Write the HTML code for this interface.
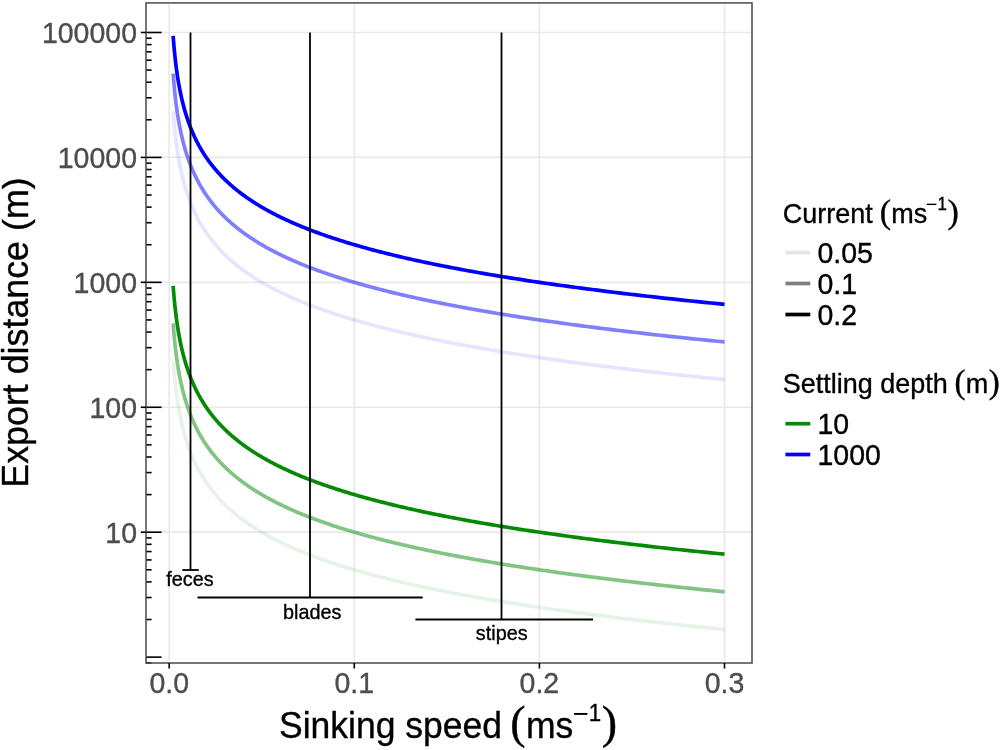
<!DOCTYPE html>
<html lang="en"><head><meta charset="utf-8"><title>Export distance vs sinking speed</title>
<style>html,body{margin:0;padding:0;background:#fff;}body{width:1000px;height:750px;overflow:hidden;}svg{display:block;}</style>
</head><body>
<svg width="1000" height="750" viewBox="0 0 1000 750" font-family="'Liberation Sans',sans-serif">
<rect x="0" y="0" width="1000" height="750" fill="#fff"/>
<g stroke="#e9e9e9" stroke-width="1.7" fill="none"><line x1="169.20" y1="4.5" x2="169.20" y2="661.2"/><line x1="354.30" y1="4.5" x2="354.30" y2="661.2"/><line x1="539.40" y1="4.5" x2="539.40" y2="661.2"/><line x1="724.50" y1="4.5" x2="724.50" y2="661.2"/><line x1="146" y1="532.20" x2="752" y2="532.20"/><line x1="146" y1="407.27" x2="752" y2="407.27"/><line x1="146" y1="282.34" x2="752" y2="282.34"/><line x1="146" y1="157.41" x2="752" y2="157.41"/><line x1="146" y1="32.48" x2="752" y2="32.48"/></g>
<polyline points="173.15,361.02 173.20,361.70 173.25,362.37 173.30,363.04 173.35,363.71 173.40,364.39 173.45,365.06 173.50,365.73 173.56,366.40 173.61,367.08 173.67,367.75 173.72,368.42 173.78,369.09 173.84,369.77 173.89,370.44 173.95,371.11 174.01,371.79 174.07,372.46 174.13,373.13 174.19,373.80 174.26,374.48 174.32,375.15 174.38,375.82 174.45,376.49 174.51,377.17 174.58,377.84 174.65,378.51 174.72,379.18 174.78,379.86 174.85,380.53 174.92,381.20 175.00,381.88 175.07,382.55 175.14,383.22 175.22,383.89 175.29,384.57 175.37,385.24 175.44,385.91 175.52,386.58 175.60,387.26 175.68,387.93 175.76,388.60 175.84,389.27 175.93,389.95 176.01,390.62 176.09,391.29 176.18,391.97 176.27,392.64 176.36,393.31 176.44,393.98 176.54,394.66 176.63,395.33 176.72,396.00 176.81,396.67 176.91,397.35 177.00,398.02 177.10,398.69 177.20,399.36 177.30,400.04 177.40,400.71 177.50,401.38 177.61,402.06 177.71,402.73 177.82,403.40 177.93,404.07 178.03,404.75 178.14,405.42 178.26,406.09 178.37,406.76 178.48,407.44 178.60,408.11 178.72,408.78 178.84,409.45 178.96,410.13 179.08,410.80 179.20,411.47 179.33,412.15 179.45,412.82 179.58,413.49 179.71,414.16 179.84,414.84 179.97,415.51 180.11,416.18 180.24,416.85 180.38,417.53 180.52,418.20 180.66,418.87 180.80,419.54 180.95,420.22 181.10,420.89 181.24,421.56 181.39,422.24 181.55,422.91 181.70,423.58 181.86,424.25 182.01,424.93 182.17,425.60 182.34,426.27 182.50,426.94 182.67,427.62 182.83,428.29 183.00,428.96 183.18,429.63 183.35,430.31 183.53,430.98 183.71,431.65 183.89,432.33 184.07,433.00 184.26,433.67 184.44,434.34 184.63,435.02 184.83,435.69 185.02,436.36 185.22,437.03 185.42,437.71 185.62,438.38 185.83,439.05 186.03,439.72 186.24,440.40 186.46,441.07 186.67,441.74 186.89,442.41 187.11,443.09 187.33,443.76 187.56,444.43 187.79,445.11 188.02,445.78 188.25,446.45 188.49,447.12 188.73,447.80 188.98,448.47 189.22,449.14 189.47,449.81 189.73,450.49 189.98,451.16 190.24,451.83 190.50,452.50 190.77,453.18 191.04,453.85 191.31,454.52 191.59,455.20 191.87,455.87 192.15,456.54 192.44,457.21 192.73,457.89 193.02,458.56 193.32,459.23 193.62,459.90 193.92,460.58 194.23,461.25 194.54,461.92 194.86,462.59 195.18,463.27 195.50,463.94 195.83,464.61 196.16,465.29 196.50,465.96 196.84,466.63 197.18,467.30 197.53,467.98 197.89,468.65 198.24,469.32 198.61,469.99 198.97,470.67 199.35,471.34 199.72,472.01 200.10,472.68 200.49,473.36 200.88,474.03 201.27,474.70 201.67,475.38 202.08,476.05 202.49,476.72 202.90,477.39 203.32,478.07 203.75,478.74 204.18,479.41 204.62,480.08 205.06,480.76 205.51,481.43 205.96,482.10 206.42,482.77 206.88,483.45 207.35,484.12 207.83,484.79 208.31,485.47 208.80,486.14 209.29,486.81 209.79,487.48 210.30,488.16 210.81,488.83 211.33,489.50 211.86,490.17 212.39,490.85 212.93,491.52 213.47,492.19 214.02,492.86 214.58,493.54 215.15,494.21 215.72,494.88 216.30,495.56 216.89,496.23 217.49,496.90 218.09,497.57 218.70,498.25 219.32,498.92 219.94,499.59 220.57,500.26 221.21,500.94 221.86,501.61 222.52,502.28 223.19,502.95 223.86,503.63 224.54,504.30 225.23,504.97 225.93,505.64 226.64,506.32 227.35,506.99 228.08,507.66 228.81,508.34 229.56,509.01 230.31,509.68 231.07,510.35 231.85,511.03 232.63,511.70 233.42,512.37 234.22,513.04 235.03,513.72 235.85,514.39 236.68,515.06 237.53,515.73 238.38,516.41 239.24,517.08 240.11,517.75 241.00,518.43 241.89,519.10 242.80,519.77 243.72,520.44 244.65,521.12 245.59,521.79 246.54,522.46 247.51,523.13 248.49,523.81 249.47,524.48 250.48,525.15 251.49,525.82 252.52,526.50 253.56,527.17 254.61,527.84 255.67,528.52 256.75,529.19 257.84,529.86 258.95,530.53 260.07,531.21 261.20,531.88 262.35,532.55 263.51,533.22 264.69,533.90 265.88,534.57 267.09,535.24 268.31,535.91 269.54,536.59 270.80,537.26 272.06,537.93 273.35,538.61 274.65,539.28 275.96,539.95 277.29,540.62 278.64,541.30 280.01,541.97 281.39,542.64 282.79,543.31 284.21,543.99 285.64,544.66 287.09,545.33 288.56,546.00 290.05,546.68 291.56,547.35 293.09,548.02 294.63,548.70 296.20,549.37 297.78,550.04 299.39,550.71 301.01,551.39 302.65,552.06 304.32,552.73 306.01,553.40 307.71,554.08 309.44,554.75 311.19,555.42 312.96,556.09 314.75,556.77 316.57,557.44 318.41,558.11 320.27,558.79 322.15,559.46 324.06,560.13 325.99,560.80 327.95,561.48 329.93,562.15 331.94,562.82 333.97,563.49 336.02,564.17 338.10,564.84 340.21,565.51 342.34,566.18 344.50,566.86 346.69,567.53 348.90,568.20 351.15,568.88 353.42,569.55 355.71,570.22 358.04,570.89 360.40,571.57 362.78,572.24 365.20,572.91 367.64,573.58 370.12,574.26 372.62,574.93 375.16,575.60 377.73,576.27 380.33,576.95 382.97,577.62 385.63,578.29 388.33,578.96 391.07,579.64 393.83,580.31 396.64,580.98 399.47,581.66 402.35,582.33 405.25,583.00 408.20,583.67 411.18,584.35 414.20,585.02 417.26,585.69 420.35,586.36 423.48,587.04 426.65,587.71 429.87,588.38 433.12,589.05 436.41,589.73 439.74,590.40 443.12,591.07 446.54,591.75 450.00,592.42 453.50,593.09 457.05,593.76 460.64,594.44 464.27,595.11 467.95,595.78 471.68,596.45 475.45,597.13 479.27,597.80 483.14,598.47 487.06,599.14 491.02,599.82 495.04,600.49 499.10,601.16 503.22,601.84 507.39,602.51 511.61,603.18 515.88,603.85 520.20,604.53 524.58,605.20 529.01,605.87 533.50,606.54 538.05,607.22 542.65,607.89 547.31,608.56 552.02,609.23 556.80,609.91 561.63,610.58 566.53,611.25 571.49,611.93 576.51,612.60 581.59,613.27 586.73,613.94 591.94,614.62 597.21,615.29 602.55,615.96 607.96,616.63 613.43,617.31 618.97,617.98 624.59,618.65 630.27,619.32 636.02,620.00 641.84,620.67 647.74,621.34 653.71,622.02 659.75,622.69 665.87,623.36 672.07,624.03 678.34,624.71 684.69,625.38 691.12,626.05 697.63,626.72 704.23,627.40 710.90,628.07 717.66,628.74 724.50,629.41" fill="none" stroke="#068a06" stroke-opacity="0.1" stroke-width="3.7" stroke-linejoin="round"/>
<polyline points="173.15,323.42 173.20,324.09 173.25,324.76 173.30,325.43 173.35,326.11 173.40,326.78 173.45,327.45 173.50,328.12 173.56,328.80 173.61,329.47 173.67,330.14 173.72,330.81 173.78,331.49 173.84,332.16 173.89,332.83 173.95,333.51 174.01,334.18 174.07,334.85 174.13,335.52 174.19,336.20 174.26,336.87 174.32,337.54 174.38,338.21 174.45,338.89 174.51,339.56 174.58,340.23 174.65,340.90 174.72,341.58 174.78,342.25 174.85,342.92 174.92,343.60 175.00,344.27 175.07,344.94 175.14,345.61 175.22,346.29 175.29,346.96 175.37,347.63 175.44,348.30 175.52,348.98 175.60,349.65 175.68,350.32 175.76,350.99 175.84,351.67 175.93,352.34 176.01,353.01 176.09,353.69 176.18,354.36 176.27,355.03 176.36,355.70 176.44,356.38 176.54,357.05 176.63,357.72 176.72,358.39 176.81,359.07 176.91,359.74 177.00,360.41 177.10,361.08 177.20,361.76 177.30,362.43 177.40,363.10 177.50,363.77 177.61,364.45 177.71,365.12 177.82,365.79 177.93,366.47 178.03,367.14 178.14,367.81 178.26,368.48 178.37,369.16 178.48,369.83 178.60,370.50 178.72,371.17 178.84,371.85 178.96,372.52 179.08,373.19 179.20,373.86 179.33,374.54 179.45,375.21 179.58,375.88 179.71,376.56 179.84,377.23 179.97,377.90 180.11,378.57 180.24,379.25 180.38,379.92 180.52,380.59 180.66,381.26 180.80,381.94 180.95,382.61 181.10,383.28 181.24,383.95 181.39,384.63 181.55,385.30 181.70,385.97 181.86,386.65 182.01,387.32 182.17,387.99 182.34,388.66 182.50,389.34 182.67,390.01 182.83,390.68 183.00,391.35 183.18,392.03 183.35,392.70 183.53,393.37 183.71,394.04 183.89,394.72 184.07,395.39 184.26,396.06 184.44,396.74 184.63,397.41 184.83,398.08 185.02,398.75 185.22,399.43 185.42,400.10 185.62,400.77 185.83,401.44 186.03,402.12 186.24,402.79 186.46,403.46 186.67,404.13 186.89,404.81 187.11,405.48 187.33,406.15 187.56,406.83 187.79,407.50 188.02,408.17 188.25,408.84 188.49,409.52 188.73,410.19 188.98,410.86 189.22,411.53 189.47,412.21 189.73,412.88 189.98,413.55 190.24,414.22 190.50,414.90 190.77,415.57 191.04,416.24 191.31,416.92 191.59,417.59 191.87,418.26 192.15,418.93 192.44,419.61 192.73,420.28 193.02,420.95 193.32,421.62 193.62,422.30 193.92,422.97 194.23,423.64 194.54,424.31 194.86,424.99 195.18,425.66 195.50,426.33 195.83,427.01 196.16,427.68 196.50,428.35 196.84,429.02 197.18,429.70 197.53,430.37 197.89,431.04 198.24,431.71 198.61,432.39 198.97,433.06 199.35,433.73 199.72,434.40 200.10,435.08 200.49,435.75 200.88,436.42 201.27,437.09 201.67,437.77 202.08,438.44 202.49,439.11 202.90,439.79 203.32,440.46 203.75,441.13 204.18,441.80 204.62,442.48 205.06,443.15 205.51,443.82 205.96,444.49 206.42,445.17 206.88,445.84 207.35,446.51 207.83,447.18 208.31,447.86 208.80,448.53 209.29,449.20 209.79,449.88 210.30,450.55 210.81,451.22 211.33,451.89 211.86,452.57 212.39,453.24 212.93,453.91 213.47,454.58 214.02,455.26 214.58,455.93 215.15,456.60 215.72,457.27 216.30,457.95 216.89,458.62 217.49,459.29 218.09,459.97 218.70,460.64 219.32,461.31 219.94,461.98 220.57,462.66 221.21,463.33 221.86,464.00 222.52,464.67 223.19,465.35 223.86,466.02 224.54,466.69 225.23,467.36 225.93,468.04 226.64,468.71 227.35,469.38 228.08,470.06 228.81,470.73 229.56,471.40 230.31,472.07 231.07,472.75 231.85,473.42 232.63,474.09 233.42,474.76 234.22,475.44 235.03,476.11 235.85,476.78 236.68,477.45 237.53,478.13 238.38,478.80 239.24,479.47 240.11,480.15 241.00,480.82 241.89,481.49 242.80,482.16 243.72,482.84 244.65,483.51 245.59,484.18 246.54,484.85 247.51,485.53 248.49,486.20 249.47,486.87 250.48,487.54 251.49,488.22 252.52,488.89 253.56,489.56 254.61,490.24 255.67,490.91 256.75,491.58 257.84,492.25 258.95,492.93 260.07,493.60 261.20,494.27 262.35,494.94 263.51,495.62 264.69,496.29 265.88,496.96 267.09,497.63 268.31,498.31 269.54,498.98 270.80,499.65 272.06,500.32 273.35,501.00 274.65,501.67 275.96,502.34 277.29,503.02 278.64,503.69 280.01,504.36 281.39,505.03 282.79,505.71 284.21,506.38 285.64,507.05 287.09,507.72 288.56,508.40 290.05,509.07 291.56,509.74 293.09,510.41 294.63,511.09 296.20,511.76 297.78,512.43 299.39,513.11 301.01,513.78 302.65,514.45 304.32,515.12 306.01,515.80 307.71,516.47 309.44,517.14 311.19,517.81 312.96,518.49 314.75,519.16 316.57,519.83 318.41,520.50 320.27,521.18 322.15,521.85 324.06,522.52 325.99,523.20 327.95,523.87 329.93,524.54 331.94,525.21 333.97,525.89 336.02,526.56 338.10,527.23 340.21,527.90 342.34,528.58 344.50,529.25 346.69,529.92 348.90,530.59 351.15,531.27 353.42,531.94 355.71,532.61 358.04,533.29 360.40,533.96 362.78,534.63 365.20,535.30 367.64,535.98 370.12,536.65 372.62,537.32 375.16,537.99 377.73,538.67 380.33,539.34 382.97,540.01 385.63,540.68 388.33,541.36 391.07,542.03 393.83,542.70 396.64,543.38 399.47,544.05 402.35,544.72 405.25,545.39 408.20,546.07 411.18,546.74 414.20,547.41 417.26,548.08 420.35,548.76 423.48,549.43 426.65,550.10 429.87,550.77 433.12,551.45 436.41,552.12 439.74,552.79 443.12,553.47 446.54,554.14 450.00,554.81 453.50,555.48 457.05,556.16 460.64,556.83 464.27,557.50 467.95,558.17 471.68,558.85 475.45,559.52 479.27,560.19 483.14,560.86 487.06,561.54 491.02,562.21 495.04,562.88 499.10,563.56 503.22,564.23 507.39,564.90 511.61,565.57 515.88,566.25 520.20,566.92 524.58,567.59 529.01,568.26 533.50,568.94 538.05,569.61 542.65,570.28 547.31,570.95 552.02,571.63 556.80,572.30 561.63,572.97 566.53,573.64 571.49,574.32 576.51,574.99 581.59,575.66 586.73,576.34 591.94,577.01 597.21,577.68 602.55,578.35 607.96,579.03 613.43,579.70 618.97,580.37 624.59,581.04 630.27,581.72 636.02,582.39 641.84,583.06 647.74,583.73 653.71,584.41 659.75,585.08 665.87,585.75 672.07,586.43 678.34,587.10 684.69,587.77 691.12,588.44 697.63,589.12 704.23,589.79 710.90,590.46 717.66,591.13 724.50,591.81" fill="none" stroke="#068a06" stroke-opacity="0.5" stroke-width="3.7" stroke-linejoin="round"/>
<polyline points="173.15,285.81 173.20,286.48 173.25,287.15 173.30,287.83 173.35,288.50 173.40,289.17 173.45,289.84 173.50,290.52 173.56,291.19 173.61,291.86 173.67,292.53 173.72,293.21 173.78,293.88 173.84,294.55 173.89,295.22 173.95,295.90 174.01,296.57 174.07,297.24 174.13,297.92 174.19,298.59 174.26,299.26 174.32,299.93 174.38,300.61 174.45,301.28 174.51,301.95 174.58,302.62 174.65,303.30 174.72,303.97 174.78,304.64 174.85,305.31 174.92,305.99 175.00,306.66 175.07,307.33 175.14,308.01 175.22,308.68 175.29,309.35 175.37,310.02 175.44,310.70 175.52,311.37 175.60,312.04 175.68,312.71 175.76,313.39 175.84,314.06 175.93,314.73 176.01,315.40 176.09,316.08 176.18,316.75 176.27,317.42 176.36,318.10 176.44,318.77 176.54,319.44 176.63,320.11 176.72,320.79 176.81,321.46 176.91,322.13 177.00,322.80 177.10,323.48 177.20,324.15 177.30,324.82 177.40,325.49 177.50,326.17 177.61,326.84 177.71,327.51 177.82,328.19 177.93,328.86 178.03,329.53 178.14,330.20 178.26,330.88 178.37,331.55 178.48,332.22 178.60,332.89 178.72,333.57 178.84,334.24 178.96,334.91 179.08,335.58 179.20,336.26 179.33,336.93 179.45,337.60 179.58,338.28 179.71,338.95 179.84,339.62 179.97,340.29 180.11,340.97 180.24,341.64 180.38,342.31 180.52,342.98 180.66,343.66 180.80,344.33 180.95,345.00 181.10,345.67 181.24,346.35 181.39,347.02 181.55,347.69 181.70,348.37 181.86,349.04 182.01,349.71 182.17,350.38 182.34,351.06 182.50,351.73 182.67,352.40 182.83,353.07 183.00,353.75 183.18,354.42 183.35,355.09 183.53,355.76 183.71,356.44 183.89,357.11 184.07,357.78 184.26,358.45 184.44,359.13 184.63,359.80 184.83,360.47 185.02,361.15 185.22,361.82 185.42,362.49 185.62,363.16 185.83,363.84 186.03,364.51 186.24,365.18 186.46,365.85 186.67,366.53 186.89,367.20 187.11,367.87 187.33,368.54 187.56,369.22 187.79,369.89 188.02,370.56 188.25,371.24 188.49,371.91 188.73,372.58 188.98,373.25 189.22,373.93 189.47,374.60 189.73,375.27 189.98,375.94 190.24,376.62 190.50,377.29 190.77,377.96 191.04,378.63 191.31,379.31 191.59,379.98 191.87,380.65 192.15,381.33 192.44,382.00 192.73,382.67 193.02,383.34 193.32,384.02 193.62,384.69 193.92,385.36 194.23,386.03 194.54,386.71 194.86,387.38 195.18,388.05 195.50,388.72 195.83,389.40 196.16,390.07 196.50,390.74 196.84,391.42 197.18,392.09 197.53,392.76 197.89,393.43 198.24,394.11 198.61,394.78 198.97,395.45 199.35,396.12 199.72,396.80 200.10,397.47 200.49,398.14 200.88,398.81 201.27,399.49 201.67,400.16 202.08,400.83 202.49,401.51 202.90,402.18 203.32,402.85 203.75,403.52 204.18,404.20 204.62,404.87 205.06,405.54 205.51,406.21 205.96,406.89 206.42,407.56 206.88,408.23 207.35,408.90 207.83,409.58 208.31,410.25 208.80,410.92 209.29,411.60 209.79,412.27 210.30,412.94 210.81,413.61 211.33,414.29 211.86,414.96 212.39,415.63 212.93,416.30 213.47,416.98 214.02,417.65 214.58,418.32 215.15,418.99 215.72,419.67 216.30,420.34 216.89,421.01 217.49,421.69 218.09,422.36 218.70,423.03 219.32,423.70 219.94,424.38 220.57,425.05 221.21,425.72 221.86,426.39 222.52,427.07 223.19,427.74 223.86,428.41 224.54,429.08 225.23,429.76 225.93,430.43 226.64,431.10 227.35,431.77 228.08,432.45 228.81,433.12 229.56,433.79 230.31,434.47 231.07,435.14 231.85,435.81 232.63,436.48 233.42,437.16 234.22,437.83 235.03,438.50 235.85,439.17 236.68,439.85 237.53,440.52 238.38,441.19 239.24,441.86 240.11,442.54 241.00,443.21 241.89,443.88 242.80,444.56 243.72,445.23 244.65,445.90 245.59,446.57 246.54,447.25 247.51,447.92 248.49,448.59 249.47,449.26 250.48,449.94 251.49,450.61 252.52,451.28 253.56,451.95 254.61,452.63 255.67,453.30 256.75,453.97 257.84,454.65 258.95,455.32 260.07,455.99 261.20,456.66 262.35,457.34 263.51,458.01 264.69,458.68 265.88,459.35 267.09,460.03 268.31,460.70 269.54,461.37 270.80,462.04 272.06,462.72 273.35,463.39 274.65,464.06 275.96,464.74 277.29,465.41 278.64,466.08 280.01,466.75 281.39,467.43 282.79,468.10 284.21,468.77 285.64,469.44 287.09,470.12 288.56,470.79 290.05,471.46 291.56,472.13 293.09,472.81 294.63,473.48 296.20,474.15 297.78,474.83 299.39,475.50 301.01,476.17 302.65,476.84 304.32,477.52 306.01,478.19 307.71,478.86 309.44,479.53 311.19,480.21 312.96,480.88 314.75,481.55 316.57,482.22 318.41,482.90 320.27,483.57 322.15,484.24 324.06,484.92 325.99,485.59 327.95,486.26 329.93,486.93 331.94,487.61 333.97,488.28 336.02,488.95 338.10,489.62 340.21,490.30 342.34,490.97 344.50,491.64 346.69,492.31 348.90,492.99 351.15,493.66 353.42,494.33 355.71,495.00 358.04,495.68 360.40,496.35 362.78,497.02 365.20,497.70 367.64,498.37 370.12,499.04 372.62,499.71 375.16,500.39 377.73,501.06 380.33,501.73 382.97,502.40 385.63,503.08 388.33,503.75 391.07,504.42 393.83,505.09 396.64,505.77 399.47,506.44 402.35,507.11 405.25,507.79 408.20,508.46 411.18,509.13 414.20,509.80 417.26,510.48 420.35,511.15 423.48,511.82 426.65,512.49 429.87,513.17 433.12,513.84 436.41,514.51 439.74,515.18 443.12,515.86 446.54,516.53 450.00,517.20 453.50,517.88 457.05,518.55 460.64,519.22 464.27,519.89 467.95,520.57 471.68,521.24 475.45,521.91 479.27,522.58 483.14,523.26 487.06,523.93 491.02,524.60 495.04,525.27 499.10,525.95 503.22,526.62 507.39,527.29 511.61,527.97 515.88,528.64 520.20,529.31 524.58,529.98 529.01,530.66 533.50,531.33 538.05,532.00 542.65,532.67 547.31,533.35 552.02,534.02 556.80,534.69 561.63,535.36 566.53,536.04 571.49,536.71 576.51,537.38 581.59,538.06 586.73,538.73 591.94,539.40 597.21,540.07 602.55,540.75 607.96,541.42 613.43,542.09 618.97,542.76 624.59,543.44 630.27,544.11 636.02,544.78 641.84,545.45 647.74,546.13 653.71,546.80 659.75,547.47 665.87,548.15 672.07,548.82 678.34,549.49 684.69,550.16 691.12,550.84 697.63,551.51 704.23,552.18 710.90,552.85 717.66,553.53 724.50,554.20" fill="none" stroke="#068a06" stroke-opacity="1" stroke-width="3.7" stroke-linejoin="round"/>
<polyline points="173.15,111.16 173.20,111.84 173.25,112.51 173.30,113.18 173.35,113.85 173.40,114.53 173.45,115.20 173.50,115.87 173.56,116.54 173.61,117.22 173.67,117.89 173.72,118.56 173.78,119.23 173.84,119.91 173.89,120.58 173.95,121.25 174.01,121.93 174.07,122.60 174.13,123.27 174.19,123.94 174.26,124.62 174.32,125.29 174.38,125.96 174.45,126.63 174.51,127.31 174.58,127.98 174.65,128.65 174.72,129.32 174.78,130.00 174.85,130.67 174.92,131.34 175.00,132.02 175.07,132.69 175.14,133.36 175.22,134.03 175.29,134.71 175.37,135.38 175.44,136.05 175.52,136.72 175.60,137.40 175.68,138.07 175.76,138.74 175.84,139.41 175.93,140.09 176.01,140.76 176.09,141.43 176.18,142.11 176.27,142.78 176.36,143.45 176.44,144.12 176.54,144.80 176.63,145.47 176.72,146.14 176.81,146.81 176.91,147.49 177.00,148.16 177.10,148.83 177.20,149.50 177.30,150.18 177.40,150.85 177.50,151.52 177.61,152.20 177.71,152.87 177.82,153.54 177.93,154.21 178.03,154.89 178.14,155.56 178.26,156.23 178.37,156.90 178.48,157.58 178.60,158.25 178.72,158.92 178.84,159.59 178.96,160.27 179.08,160.94 179.20,161.61 179.33,162.29 179.45,162.96 179.58,163.63 179.71,164.30 179.84,164.98 179.97,165.65 180.11,166.32 180.24,166.99 180.38,167.67 180.52,168.34 180.66,169.01 180.80,169.68 180.95,170.36 181.10,171.03 181.24,171.70 181.39,172.38 181.55,173.05 181.70,173.72 181.86,174.39 182.01,175.07 182.17,175.74 182.34,176.41 182.50,177.08 182.67,177.76 182.83,178.43 183.00,179.10 183.18,179.77 183.35,180.45 183.53,181.12 183.71,181.79 183.89,182.47 184.07,183.14 184.26,183.81 184.44,184.48 184.63,185.16 184.83,185.83 185.02,186.50 185.22,187.17 185.42,187.85 185.62,188.52 185.83,189.19 186.03,189.86 186.24,190.54 186.46,191.21 186.67,191.88 186.89,192.55 187.11,193.23 187.33,193.90 187.56,194.57 187.79,195.25 188.02,195.92 188.25,196.59 188.49,197.26 188.73,197.94 188.98,198.61 189.22,199.28 189.47,199.95 189.73,200.63 189.98,201.30 190.24,201.97 190.50,202.64 190.77,203.32 191.04,203.99 191.31,204.66 191.59,205.34 191.87,206.01 192.15,206.68 192.44,207.35 192.73,208.03 193.02,208.70 193.32,209.37 193.62,210.04 193.92,210.72 194.23,211.39 194.54,212.06 194.86,212.73 195.18,213.41 195.50,214.08 195.83,214.75 196.16,215.43 196.50,216.10 196.84,216.77 197.18,217.44 197.53,218.12 197.89,218.79 198.24,219.46 198.61,220.13 198.97,220.81 199.35,221.48 199.72,222.15 200.10,222.82 200.49,223.50 200.88,224.17 201.27,224.84 201.67,225.52 202.08,226.19 202.49,226.86 202.90,227.53 203.32,228.21 203.75,228.88 204.18,229.55 204.62,230.22 205.06,230.90 205.51,231.57 205.96,232.24 206.42,232.91 206.88,233.59 207.35,234.26 207.83,234.93 208.31,235.61 208.80,236.28 209.29,236.95 209.79,237.62 210.30,238.30 210.81,238.97 211.33,239.64 211.86,240.31 212.39,240.99 212.93,241.66 213.47,242.33 214.02,243.00 214.58,243.68 215.15,244.35 215.72,245.02 216.30,245.70 216.89,246.37 217.49,247.04 218.09,247.71 218.70,248.39 219.32,249.06 219.94,249.73 220.57,250.40 221.21,251.08 221.86,251.75 222.52,252.42 223.19,253.09 223.86,253.77 224.54,254.44 225.23,255.11 225.93,255.78 226.64,256.46 227.35,257.13 228.08,257.80 228.81,258.48 229.56,259.15 230.31,259.82 231.07,260.49 231.85,261.17 232.63,261.84 233.42,262.51 234.22,263.18 235.03,263.86 235.85,264.53 236.68,265.20 237.53,265.87 238.38,266.55 239.24,267.22 240.11,267.89 241.00,268.57 241.89,269.24 242.80,269.91 243.72,270.58 244.65,271.26 245.59,271.93 246.54,272.60 247.51,273.27 248.49,273.95 249.47,274.62 250.48,275.29 251.49,275.96 252.52,276.64 253.56,277.31 254.61,277.98 255.67,278.66 256.75,279.33 257.84,280.00 258.95,280.67 260.07,281.35 261.20,282.02 262.35,282.69 263.51,283.36 264.69,284.04 265.88,284.71 267.09,285.38 268.31,286.05 269.54,286.73 270.80,287.40 272.06,288.07 273.35,288.75 274.65,289.42 275.96,290.09 277.29,290.76 278.64,291.44 280.01,292.11 281.39,292.78 282.79,293.45 284.21,294.13 285.64,294.80 287.09,295.47 288.56,296.14 290.05,296.82 291.56,297.49 293.09,298.16 294.63,298.84 296.20,299.51 297.78,300.18 299.39,300.85 301.01,301.53 302.65,302.20 304.32,302.87 306.01,303.54 307.71,304.22 309.44,304.89 311.19,305.56 312.96,306.23 314.75,306.91 316.57,307.58 318.41,308.25 320.27,308.93 322.15,309.60 324.06,310.27 325.99,310.94 327.95,311.62 329.93,312.29 331.94,312.96 333.97,313.63 336.02,314.31 338.10,314.98 340.21,315.65 342.34,316.32 344.50,317.00 346.69,317.67 348.90,318.34 351.15,319.02 353.42,319.69 355.71,320.36 358.04,321.03 360.40,321.71 362.78,322.38 365.20,323.05 367.64,323.72 370.12,324.40 372.62,325.07 375.16,325.74 377.73,326.41 380.33,327.09 382.97,327.76 385.63,328.43 388.33,329.10 391.07,329.78 393.83,330.45 396.64,331.12 399.47,331.80 402.35,332.47 405.25,333.14 408.20,333.81 411.18,334.49 414.20,335.16 417.26,335.83 420.35,336.50 423.48,337.18 426.65,337.85 429.87,338.52 433.12,339.19 436.41,339.87 439.74,340.54 443.12,341.21 446.54,341.89 450.00,342.56 453.50,343.23 457.05,343.90 460.64,344.58 464.27,345.25 467.95,345.92 471.68,346.59 475.45,347.27 479.27,347.94 483.14,348.61 487.06,349.28 491.02,349.96 495.04,350.63 499.10,351.30 503.22,351.98 507.39,352.65 511.61,353.32 515.88,353.99 520.20,354.67 524.58,355.34 529.01,356.01 533.50,356.68 538.05,357.36 542.65,358.03 547.31,358.70 552.02,359.37 556.80,360.05 561.63,360.72 566.53,361.39 571.49,362.07 576.51,362.74 581.59,363.41 586.73,364.08 591.94,364.76 597.21,365.43 602.55,366.10 607.96,366.77 613.43,367.45 618.97,368.12 624.59,368.79 630.27,369.46 636.02,370.14 641.84,370.81 647.74,371.48 653.71,372.16 659.75,372.83 665.87,373.50 672.07,374.17 678.34,374.85 684.69,375.52 691.12,376.19 697.63,376.86 704.23,377.54 710.90,378.21 717.66,378.88 724.50,379.55" fill="none" stroke="#0000ff" stroke-opacity="0.1" stroke-width="3.7" stroke-linejoin="round"/>
<polyline points="173.15,73.56 173.20,74.23 173.25,74.90 173.30,75.57 173.35,76.25 173.40,76.92 173.45,77.59 173.50,78.26 173.56,78.94 173.61,79.61 173.67,80.28 173.72,80.95 173.78,81.63 173.84,82.30 173.89,82.97 173.95,83.65 174.01,84.32 174.07,84.99 174.13,85.66 174.19,86.34 174.26,87.01 174.32,87.68 174.38,88.35 174.45,89.03 174.51,89.70 174.58,90.37 174.65,91.04 174.72,91.72 174.78,92.39 174.85,93.06 174.92,93.74 175.00,94.41 175.07,95.08 175.14,95.75 175.22,96.43 175.29,97.10 175.37,97.77 175.44,98.44 175.52,99.12 175.60,99.79 175.68,100.46 175.76,101.13 175.84,101.81 175.93,102.48 176.01,103.15 176.09,103.83 176.18,104.50 176.27,105.17 176.36,105.84 176.44,106.52 176.54,107.19 176.63,107.86 176.72,108.53 176.81,109.21 176.91,109.88 177.00,110.55 177.10,111.22 177.20,111.90 177.30,112.57 177.40,113.24 177.50,113.91 177.61,114.59 177.71,115.26 177.82,115.93 177.93,116.61 178.03,117.28 178.14,117.95 178.26,118.62 178.37,119.30 178.48,119.97 178.60,120.64 178.72,121.31 178.84,121.99 178.96,122.66 179.08,123.33 179.20,124.00 179.33,124.68 179.45,125.35 179.58,126.02 179.71,126.70 179.84,127.37 179.97,128.04 180.11,128.71 180.24,129.39 180.38,130.06 180.52,130.73 180.66,131.40 180.80,132.08 180.95,132.75 181.10,133.42 181.24,134.09 181.39,134.77 181.55,135.44 181.70,136.11 181.86,136.79 182.01,137.46 182.17,138.13 182.34,138.80 182.50,139.48 182.67,140.15 182.83,140.82 183.00,141.49 183.18,142.17 183.35,142.84 183.53,143.51 183.71,144.18 183.89,144.86 184.07,145.53 184.26,146.20 184.44,146.88 184.63,147.55 184.83,148.22 185.02,148.89 185.22,149.57 185.42,150.24 185.62,150.91 185.83,151.58 186.03,152.26 186.24,152.93 186.46,153.60 186.67,154.27 186.89,154.95 187.11,155.62 187.33,156.29 187.56,156.97 187.79,157.64 188.02,158.31 188.25,158.98 188.49,159.66 188.73,160.33 188.98,161.00 189.22,161.67 189.47,162.35 189.73,163.02 189.98,163.69 190.24,164.36 190.50,165.04 190.77,165.71 191.04,166.38 191.31,167.06 191.59,167.73 191.87,168.40 192.15,169.07 192.44,169.75 192.73,170.42 193.02,171.09 193.32,171.76 193.62,172.44 193.92,173.11 194.23,173.78 194.54,174.45 194.86,175.13 195.18,175.80 195.50,176.47 195.83,177.15 196.16,177.82 196.50,178.49 196.84,179.16 197.18,179.84 197.53,180.51 197.89,181.18 198.24,181.85 198.61,182.53 198.97,183.20 199.35,183.87 199.72,184.54 200.10,185.22 200.49,185.89 200.88,186.56 201.27,187.23 201.67,187.91 202.08,188.58 202.49,189.25 202.90,189.93 203.32,190.60 203.75,191.27 204.18,191.94 204.62,192.62 205.06,193.29 205.51,193.96 205.96,194.63 206.42,195.31 206.88,195.98 207.35,196.65 207.83,197.32 208.31,198.00 208.80,198.67 209.29,199.34 209.79,200.02 210.30,200.69 210.81,201.36 211.33,202.03 211.86,202.71 212.39,203.38 212.93,204.05 213.47,204.72 214.02,205.40 214.58,206.07 215.15,206.74 215.72,207.41 216.30,208.09 216.89,208.76 217.49,209.43 218.09,210.11 218.70,210.78 219.32,211.45 219.94,212.12 220.57,212.80 221.21,213.47 221.86,214.14 222.52,214.81 223.19,215.49 223.86,216.16 224.54,216.83 225.23,217.50 225.93,218.18 226.64,218.85 227.35,219.52 228.08,220.20 228.81,220.87 229.56,221.54 230.31,222.21 231.07,222.89 231.85,223.56 232.63,224.23 233.42,224.90 234.22,225.58 235.03,226.25 235.85,226.92 236.68,227.59 237.53,228.27 238.38,228.94 239.24,229.61 240.11,230.29 241.00,230.96 241.89,231.63 242.80,232.30 243.72,232.98 244.65,233.65 245.59,234.32 246.54,234.99 247.51,235.67 248.49,236.34 249.47,237.01 250.48,237.68 251.49,238.36 252.52,239.03 253.56,239.70 254.61,240.38 255.67,241.05 256.75,241.72 257.84,242.39 258.95,243.07 260.07,243.74 261.20,244.41 262.35,245.08 263.51,245.76 264.69,246.43 265.88,247.10 267.09,247.77 268.31,248.45 269.54,249.12 270.80,249.79 272.06,250.46 273.35,251.14 274.65,251.81 275.96,252.48 277.29,253.16 278.64,253.83 280.01,254.50 281.39,255.17 282.79,255.85 284.21,256.52 285.64,257.19 287.09,257.86 288.56,258.54 290.05,259.21 291.56,259.88 293.09,260.55 294.63,261.23 296.20,261.90 297.78,262.57 299.39,263.25 301.01,263.92 302.65,264.59 304.32,265.26 306.01,265.94 307.71,266.61 309.44,267.28 311.19,267.95 312.96,268.63 314.75,269.30 316.57,269.97 318.41,270.64 320.27,271.32 322.15,271.99 324.06,272.66 325.99,273.34 327.95,274.01 329.93,274.68 331.94,275.35 333.97,276.03 336.02,276.70 338.10,277.37 340.21,278.04 342.34,278.72 344.50,279.39 346.69,280.06 348.90,280.73 351.15,281.41 353.42,282.08 355.71,282.75 358.04,283.43 360.40,284.10 362.78,284.77 365.20,285.44 367.64,286.12 370.12,286.79 372.62,287.46 375.16,288.13 377.73,288.81 380.33,289.48 382.97,290.15 385.63,290.82 388.33,291.50 391.07,292.17 393.83,292.84 396.64,293.52 399.47,294.19 402.35,294.86 405.25,295.53 408.20,296.21 411.18,296.88 414.20,297.55 417.26,298.22 420.35,298.90 423.48,299.57 426.65,300.24 429.87,300.91 433.12,301.59 436.41,302.26 439.74,302.93 443.12,303.61 446.54,304.28 450.00,304.95 453.50,305.62 457.05,306.30 460.64,306.97 464.27,307.64 467.95,308.31 471.68,308.99 475.45,309.66 479.27,310.33 483.14,311.00 487.06,311.68 491.02,312.35 495.04,313.02 499.10,313.70 503.22,314.37 507.39,315.04 511.61,315.71 515.88,316.39 520.20,317.06 524.58,317.73 529.01,318.40 533.50,319.08 538.05,319.75 542.65,320.42 547.31,321.09 552.02,321.77 556.80,322.44 561.63,323.11 566.53,323.78 571.49,324.46 576.51,325.13 581.59,325.80 586.73,326.48 591.94,327.15 597.21,327.82 602.55,328.49 607.96,329.17 613.43,329.84 618.97,330.51 624.59,331.18 630.27,331.86 636.02,332.53 641.84,333.20 647.74,333.87 653.71,334.55 659.75,335.22 665.87,335.89 672.07,336.57 678.34,337.24 684.69,337.91 691.12,338.58 697.63,339.26 704.23,339.93 710.90,340.60 717.66,341.27 724.50,341.95" fill="none" stroke="#0000ff" stroke-opacity="0.5" stroke-width="3.7" stroke-linejoin="round"/>
<polyline points="173.15,35.95 173.20,36.62 173.25,37.29 173.30,37.97 173.35,38.64 173.40,39.31 173.45,39.98 173.50,40.66 173.56,41.33 173.61,42.00 173.67,42.67 173.72,43.35 173.78,44.02 173.84,44.69 173.89,45.36 173.95,46.04 174.01,46.71 174.07,47.38 174.13,48.06 174.19,48.73 174.26,49.40 174.32,50.07 174.38,50.75 174.45,51.42 174.51,52.09 174.58,52.76 174.65,53.44 174.72,54.11 174.78,54.78 174.85,55.45 174.92,56.13 175.00,56.80 175.07,57.47 175.14,58.15 175.22,58.82 175.29,59.49 175.37,60.16 175.44,60.84 175.52,61.51 175.60,62.18 175.68,62.85 175.76,63.53 175.84,64.20 175.93,64.87 176.01,65.54 176.09,66.22 176.18,66.89 176.27,67.56 176.36,68.24 176.44,68.91 176.54,69.58 176.63,70.25 176.72,70.93 176.81,71.60 176.91,72.27 177.00,72.94 177.10,73.62 177.20,74.29 177.30,74.96 177.40,75.63 177.50,76.31 177.61,76.98 177.71,77.65 177.82,78.33 177.93,79.00 178.03,79.67 178.14,80.34 178.26,81.02 178.37,81.69 178.48,82.36 178.60,83.03 178.72,83.71 178.84,84.38 178.96,85.05 179.08,85.72 179.20,86.40 179.33,87.07 179.45,87.74 179.58,88.42 179.71,89.09 179.84,89.76 179.97,90.43 180.11,91.11 180.24,91.78 180.38,92.45 180.52,93.12 180.66,93.80 180.80,94.47 180.95,95.14 181.10,95.81 181.24,96.49 181.39,97.16 181.55,97.83 181.70,98.51 181.86,99.18 182.01,99.85 182.17,100.52 182.34,101.20 182.50,101.87 182.67,102.54 182.83,103.21 183.00,103.89 183.18,104.56 183.35,105.23 183.53,105.90 183.71,106.58 183.89,107.25 184.07,107.92 184.26,108.59 184.44,109.27 184.63,109.94 184.83,110.61 185.02,111.29 185.22,111.96 185.42,112.63 185.62,113.30 185.83,113.98 186.03,114.65 186.24,115.32 186.46,115.99 186.67,116.67 186.89,117.34 187.11,118.01 187.33,118.68 187.56,119.36 187.79,120.03 188.02,120.70 188.25,121.38 188.49,122.05 188.73,122.72 188.98,123.39 189.22,124.07 189.47,124.74 189.73,125.41 189.98,126.08 190.24,126.76 190.50,127.43 190.77,128.10 191.04,128.77 191.31,129.45 191.59,130.12 191.87,130.79 192.15,131.47 192.44,132.14 192.73,132.81 193.02,133.48 193.32,134.16 193.62,134.83 193.92,135.50 194.23,136.17 194.54,136.85 194.86,137.52 195.18,138.19 195.50,138.86 195.83,139.54 196.16,140.21 196.50,140.88 196.84,141.56 197.18,142.23 197.53,142.90 197.89,143.57 198.24,144.25 198.61,144.92 198.97,145.59 199.35,146.26 199.72,146.94 200.10,147.61 200.49,148.28 200.88,148.95 201.27,149.63 201.67,150.30 202.08,150.97 202.49,151.65 202.90,152.32 203.32,152.99 203.75,153.66 204.18,154.34 204.62,155.01 205.06,155.68 205.51,156.35 205.96,157.03 206.42,157.70 206.88,158.37 207.35,159.04 207.83,159.72 208.31,160.39 208.80,161.06 209.29,161.74 209.79,162.41 210.30,163.08 210.81,163.75 211.33,164.43 211.86,165.10 212.39,165.77 212.93,166.44 213.47,167.12 214.02,167.79 214.58,168.46 215.15,169.13 215.72,169.81 216.30,170.48 216.89,171.15 217.49,171.83 218.09,172.50 218.70,173.17 219.32,173.84 219.94,174.52 220.57,175.19 221.21,175.86 221.86,176.53 222.52,177.21 223.19,177.88 223.86,178.55 224.54,179.22 225.23,179.90 225.93,180.57 226.64,181.24 227.35,181.91 228.08,182.59 228.81,183.26 229.56,183.93 230.31,184.61 231.07,185.28 231.85,185.95 232.63,186.62 233.42,187.30 234.22,187.97 235.03,188.64 235.85,189.31 236.68,189.99 237.53,190.66 238.38,191.33 239.24,192.00 240.11,192.68 241.00,193.35 241.89,194.02 242.80,194.70 243.72,195.37 244.65,196.04 245.59,196.71 246.54,197.39 247.51,198.06 248.49,198.73 249.47,199.40 250.48,200.08 251.49,200.75 252.52,201.42 253.56,202.09 254.61,202.77 255.67,203.44 256.75,204.11 257.84,204.79 258.95,205.46 260.07,206.13 261.20,206.80 262.35,207.48 263.51,208.15 264.69,208.82 265.88,209.49 267.09,210.17 268.31,210.84 269.54,211.51 270.80,212.18 272.06,212.86 273.35,213.53 274.65,214.20 275.96,214.88 277.29,215.55 278.64,216.22 280.01,216.89 281.39,217.57 282.79,218.24 284.21,218.91 285.64,219.58 287.09,220.26 288.56,220.93 290.05,221.60 291.56,222.27 293.09,222.95 294.63,223.62 296.20,224.29 297.78,224.97 299.39,225.64 301.01,226.31 302.65,226.98 304.32,227.66 306.01,228.33 307.71,229.00 309.44,229.67 311.19,230.35 312.96,231.02 314.75,231.69 316.57,232.36 318.41,233.04 320.27,233.71 322.15,234.38 324.06,235.06 325.99,235.73 327.95,236.40 329.93,237.07 331.94,237.75 333.97,238.42 336.02,239.09 338.10,239.76 340.21,240.44 342.34,241.11 344.50,241.78 346.69,242.45 348.90,243.13 351.15,243.80 353.42,244.47 355.71,245.14 358.04,245.82 360.40,246.49 362.78,247.16 365.20,247.84 367.64,248.51 370.12,249.18 372.62,249.85 375.16,250.53 377.73,251.20 380.33,251.87 382.97,252.54 385.63,253.22 388.33,253.89 391.07,254.56 393.83,255.23 396.64,255.91 399.47,256.58 402.35,257.25 405.25,257.93 408.20,258.60 411.18,259.27 414.20,259.94 417.26,260.62 420.35,261.29 423.48,261.96 426.65,262.63 429.87,263.31 433.12,263.98 436.41,264.65 439.74,265.32 443.12,266.00 446.54,266.67 450.00,267.34 453.50,268.02 457.05,268.69 460.64,269.36 464.27,270.03 467.95,270.71 471.68,271.38 475.45,272.05 479.27,272.72 483.14,273.40 487.06,274.07 491.02,274.74 495.04,275.41 499.10,276.09 503.22,276.76 507.39,277.43 511.61,278.11 515.88,278.78 520.20,279.45 524.58,280.12 529.01,280.80 533.50,281.47 538.05,282.14 542.65,282.81 547.31,283.49 552.02,284.16 556.80,284.83 561.63,285.50 566.53,286.18 571.49,286.85 576.51,287.52 581.59,288.20 586.73,288.87 591.94,289.54 597.21,290.21 602.55,290.89 607.96,291.56 613.43,292.23 618.97,292.90 624.59,293.58 630.27,294.25 636.02,294.92 641.84,295.59 647.74,296.27 653.71,296.94 659.75,297.61 665.87,298.29 672.07,298.96 678.34,299.63 684.69,300.30 691.12,300.98 697.63,301.65 704.23,302.32 710.90,302.99 717.66,303.67 724.50,304.34" fill="none" stroke="#0000ff" stroke-opacity="1" stroke-width="3.7" stroke-linejoin="round"/>
<g stroke="#000" stroke-width="1.8" fill="none"><line x1="190.5" y1="32.5" x2="190.5" y2="570"/><line x1="182.3" y1="570" x2="198.8" y2="570"/><line x1="310" y1="32.5" x2="310" y2="597.5"/><line x1="197.5" y1="597.5" x2="422.7" y2="597.5"/><line x1="501.5" y1="32.5" x2="501.5" y2="619.5"/><line x1="415.4" y1="619.5" x2="593" y2="619.5"/></g>
<text transform="translate(189.90,586.00) scale(1,1)" font-size="19.8" fill="#000" text-anchor="middle" stroke="#000" stroke-width="0.35">feces</text>
<text transform="translate(312.20,619.00) scale(1,1)" font-size="19.8" fill="#000" text-anchor="middle" stroke="#000" stroke-width="0.35">blades</text>
<text transform="translate(501.70,640.00) scale(1,1)" font-size="19.8" fill="#000" text-anchor="middle" stroke="#000" stroke-width="0.35">stipes</text>
<g stroke="#000" stroke-width="1.6" fill="none"><line x1="146" y1="657.13" x2="161.6" y2="657.13"/><line x1="146" y1="619.52" x2="151.6" y2="619.52"/><line x1="146" y1="597.52" x2="151.6" y2="597.52"/><line x1="146" y1="581.91" x2="151.6" y2="581.91"/><line x1="146" y1="569.81" x2="151.6" y2="569.81"/><line x1="146" y1="559.92" x2="151.6" y2="559.92"/><line x1="146" y1="551.55" x2="151.6" y2="551.55"/><line x1="146" y1="544.31" x2="151.6" y2="544.31"/><line x1="146" y1="537.92" x2="151.6" y2="537.92"/><line x1="146" y1="532.20" x2="161.6" y2="532.20"/><line x1="146" y1="494.59" x2="151.6" y2="494.59"/><line x1="146" y1="472.59" x2="151.6" y2="472.59"/><line x1="146" y1="456.98" x2="151.6" y2="456.98"/><line x1="146" y1="444.88" x2="151.6" y2="444.88"/><line x1="146" y1="434.99" x2="151.6" y2="434.99"/><line x1="146" y1="426.62" x2="151.6" y2="426.62"/><line x1="146" y1="419.38" x2="151.6" y2="419.38"/><line x1="146" y1="412.99" x2="151.6" y2="412.99"/><line x1="146" y1="407.27" x2="161.6" y2="407.27"/><line x1="146" y1="369.66" x2="151.6" y2="369.66"/><line x1="146" y1="347.66" x2="151.6" y2="347.66"/><line x1="146" y1="332.05" x2="151.6" y2="332.05"/><line x1="146" y1="319.95" x2="151.6" y2="319.95"/><line x1="146" y1="310.06" x2="151.6" y2="310.06"/><line x1="146" y1="301.69" x2="151.6" y2="301.69"/><line x1="146" y1="294.45" x2="151.6" y2="294.45"/><line x1="146" y1="288.06" x2="151.6" y2="288.06"/><line x1="146" y1="282.34" x2="161.6" y2="282.34"/><line x1="146" y1="244.73" x2="151.6" y2="244.73"/><line x1="146" y1="222.73" x2="151.6" y2="222.73"/><line x1="146" y1="207.12" x2="151.6" y2="207.12"/><line x1="146" y1="195.02" x2="151.6" y2="195.02"/><line x1="146" y1="185.13" x2="151.6" y2="185.13"/><line x1="146" y1="176.76" x2="151.6" y2="176.76"/><line x1="146" y1="169.52" x2="151.6" y2="169.52"/><line x1="146" y1="163.13" x2="151.6" y2="163.13"/><line x1="146" y1="157.41" x2="161.6" y2="157.41"/><line x1="146" y1="119.80" x2="151.6" y2="119.80"/><line x1="146" y1="97.80" x2="151.6" y2="97.80"/><line x1="146" y1="82.19" x2="151.6" y2="82.19"/><line x1="146" y1="70.09" x2="151.6" y2="70.09"/><line x1="146" y1="60.20" x2="151.6" y2="60.20"/><line x1="146" y1="51.83" x2="151.6" y2="51.83"/><line x1="146" y1="44.59" x2="151.6" y2="44.59"/><line x1="146" y1="38.20" x2="151.6" y2="38.20"/><line x1="146" y1="32.48" x2="161.6" y2="32.48"/><line x1="146" y1="662.85" x2="151.6" y2="662.85"/></g>
<rect x="146" y="2.9" width="606" height="660.1" fill="none" stroke="#4a4a4a" stroke-width="1.5"/>
<g stroke="#000" stroke-width="1.6" fill="none"><line x1="140.8" y1="532.20" x2="146" y2="532.20"/><line x1="140.8" y1="407.27" x2="146" y2="407.27"/><line x1="140.8" y1="282.34" x2="146" y2="282.34"/><line x1="140.8" y1="157.41" x2="146" y2="157.41"/><line x1="140.8" y1="32.48" x2="146" y2="32.48"/><line x1="169.20" y1="663" x2="169.20" y2="668.5"/><line x1="354.30" y1="663" x2="354.30" y2="668.5"/><line x1="539.40" y1="663" x2="539.40" y2="668.5"/><line x1="724.50" y1="663" x2="724.50" y2="668.5"/></g>
<text transform="translate(137.00,542.60) scale(1,1.04)" font-size="28.5" fill="#4d4d4d" text-anchor="end" stroke="#4d4d4d" stroke-width="0.35">10</text>
<text transform="translate(137.00,417.67) scale(1,1.04)" font-size="28.5" fill="#4d4d4d" text-anchor="end" stroke="#4d4d4d" stroke-width="0.35">100</text>
<text transform="translate(137.00,292.74) scale(1,1.04)" font-size="28.5" fill="#4d4d4d" text-anchor="end" stroke="#4d4d4d" stroke-width="0.35">1000</text>
<text transform="translate(137.00,167.81) scale(1,1.04)" font-size="28.5" fill="#4d4d4d" text-anchor="end" stroke="#4d4d4d" stroke-width="0.35">10000</text>
<text transform="translate(137.00,42.88) scale(1,1.04)" font-size="28.5" fill="#4d4d4d" text-anchor="end" stroke="#4d4d4d" stroke-width="0.35">100000</text>
<text transform="translate(169.20,693.00) scale(1,1.04)" font-size="28.5" fill="#4d4d4d" text-anchor="middle" stroke="#4d4d4d" stroke-width="0.35">0.0</text>
<text transform="translate(354.30,693.00) scale(1,1.04)" font-size="28.5" fill="#4d4d4d" text-anchor="middle" stroke="#4d4d4d" stroke-width="0.35">0.1</text>
<text transform="translate(539.40,693.00) scale(1,1.04)" font-size="28.5" fill="#4d4d4d" text-anchor="middle" stroke="#4d4d4d" stroke-width="0.35">0.2</text>
<text transform="translate(724.50,693.00) scale(1,1.04)" font-size="28.5" fill="#4d4d4d" text-anchor="middle" stroke="#4d4d4d" stroke-width="0.35">0.3</text>
<text transform="translate(279.00,738.00) scale(1,1.04)" font-size="35.5" fill="#000" stroke="#000" stroke-width="0.35">Sinking speed</text>
<text transform="translate(510.20,737.50) scale(1,1)" font-size="46" fill="#000" font-family="'Liberation Serif',serif" stroke="#000" stroke-width="0.4">(</text>
<text transform="translate(526.00,738.00) scale(1,1.04)" font-size="35.5" fill="#000" stroke="#000" stroke-width="0.35">ms</text>
<text transform="translate(572.60,723.00) scale(1,1)" font-size="27.5" fill="#000">−</text>
<text transform="translate(588.80,720.80) scale(1,1.04)" font-size="22.3" fill="#000" stroke="#000" stroke-width="0.35">1</text>
<text transform="translate(601.80,737.50) scale(1,1)" font-size="46" fill="#000" font-family="'Liberation Serif',serif" stroke="#000" stroke-width="0.4">)</text>
<text transform="translate(28.30,487.70) rotate(-90) scale(1,1.04)" font-size="35.8" fill="#000" stroke="#000" stroke-width="0.35">Export distance</text>
<text transform="translate(28.30,231.01) rotate(-90) scale(1,0.985)" font-size="35.8" fill="#000" stroke="#000" stroke-width="0.35">(</text>
<text transform="translate(28.30,219.09) rotate(-90) scale(1,1.04)" font-size="35.8" fill="#000" stroke="#000" stroke-width="0.35">m</text>
<text transform="translate(28.30,189.27) rotate(-90) scale(1,0.985)" font-size="35.8" fill="#000" stroke="#000" stroke-width="0.35">)</text>
<text transform="translate(782.70,223.00) scale(1,1.04)" font-size="27" fill="#000" stroke="#000" stroke-width="0.35">Current</text>
<text transform="translate(879.80,222.50) scale(1,1)" font-size="34" fill="#000" font-family="'Liberation Serif',serif" stroke="#000" stroke-width="0.4">(</text>
<text transform="translate(891.30,223.00) scale(1,1.04)" font-size="27" fill="#000" stroke="#000" stroke-width="0.35">ms</text>
<text transform="translate(925.80,210.60) scale(1,1)" font-size="20" fill="#000">−</text>
<text transform="translate(937.60,209.50) scale(1,1.04)" font-size="17" fill="#000" stroke="#000" stroke-width="0.35">1</text>
<text transform="translate(947.40,222.50) scale(1,1)" font-size="34" fill="#000" font-family="'Liberation Serif',serif" stroke="#000" stroke-width="0.4">)</text>
<text transform="translate(782.70,393.30) scale(1,1.04)" font-size="27" fill="#000" stroke="#000" stroke-width="0.35">Settling depth</text>
<text transform="translate(954.60,393.00) scale(1,1)" font-size="33" fill="#000" font-family="'Liberation Serif',serif" stroke="#000" stroke-width="0.4">(</text>
<text transform="translate(965.80,393.30) scale(1,1.04)" font-size="27" fill="#000" stroke="#000" stroke-width="0.35">m</text>
<text transform="translate(988.80,393.00) scale(1,1)" font-size="33" fill="#000" font-family="'Liberation Serif',serif" stroke="#000" stroke-width="0.4">)</text>
<g stroke-width="3.7" fill="none"><line x1="785.4" y1="252.6" x2="810.3" y2="252.6" stroke="#000" stroke-opacity="0.1"/><line x1="785.4" y1="283.5" x2="810.3" y2="283.5" stroke="#000" stroke-opacity="0.5"/><line x1="785.4" y1="314.5" x2="810.3" y2="314.5" stroke="#000" stroke-opacity="1"/><line x1="785.4" y1="423.7" x2="810.3" y2="423.7" stroke="#068a06" stroke-opacity="1"/><line x1="785.4" y1="454.5" x2="810.3" y2="454.5" stroke="#0000ff" stroke-opacity="1"/></g>
<text transform="translate(817.50,263.20) scale(1,1.04)" font-size="28.5" fill="#000" stroke="#000" stroke-width="0.35">0.05</text>
<text transform="translate(817.50,294.10) scale(1,1.04)" font-size="28.5" fill="#000" stroke="#000" stroke-width="0.35">0.1</text>
<text transform="translate(817.50,325.10) scale(1,1.04)" font-size="28.5" fill="#000" stroke="#000" stroke-width="0.35">0.2</text>
<text transform="translate(817.50,434.30) scale(1,1.04)" font-size="28.5" fill="#000" stroke="#000" stroke-width="0.35">10</text>
<text transform="translate(817.50,465.10) scale(1,1.04)" font-size="28.5" fill="#000" stroke="#000" stroke-width="0.35">1000</text>
</svg>
</body></html>
